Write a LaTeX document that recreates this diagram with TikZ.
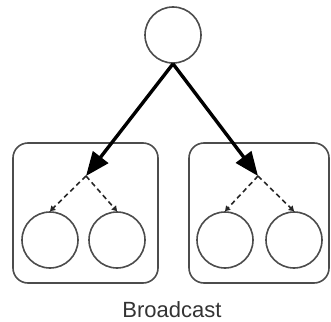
\documentclass[tikz,border=0pt]{standalone}
\usepackage{fontspec}
\setmainfont{Liberation Sans}
\usetikzlibrary{arrows.meta}
\begin{document}
\begin{tikzpicture}[x=1pt,y=-1pt,
  vertex/.style={circle,draw=black!70,line width=1.6pt,minimum size=56pt,inner sep=0pt},
  group/.style={draw=black!70,line width=1.6pt,rounded corners=15pt},
  bcast/.style={line width=3.4pt,-{Triangle[length=24pt,width=19pt]}},
  fan/.style={line width=1.6pt,draw=black!85,dash pattern=on 5pt off 3.5pt,-{Triangle[length=5pt,width=6pt]}}]
\useasboundingbox (0,0) rectangle (331,321);
% two groups
\draw[group] (13,143) rectangle (158,283);
\draw[group] (189,143) rectangle (329,283);
% root and members
\node[vertex] (root) at (173,35) {};
\node[vertex] (a1) at (50,240) {};
\node[vertex] (a2) at (117,240) {};
\node[vertex] (b1) at (225,240) {};
\node[vertex] (b2) at (294,240) {};
% fan-out points inside each group
\coordinate (ga) at (86,176);
\coordinate (gb) at (258,176);
% broadcast to each group
\draw[bcast] (root.south) -- (ga);
\draw[bcast] (root.south) -- (gb);
% distribution within groups
\draw[fan] (ga) -- (a1.north);
\draw[fan] (ga) -- (a2.north);
\draw[fan] (gb) -- (b1.north);
\draw[fan] (gb) -- (b2.north);
\node[font=\fontsize{22}{25}\selectfont,text=black!80] (label) at (172,310) {Broadcast};
\end{tikzpicture}
\end{document}
